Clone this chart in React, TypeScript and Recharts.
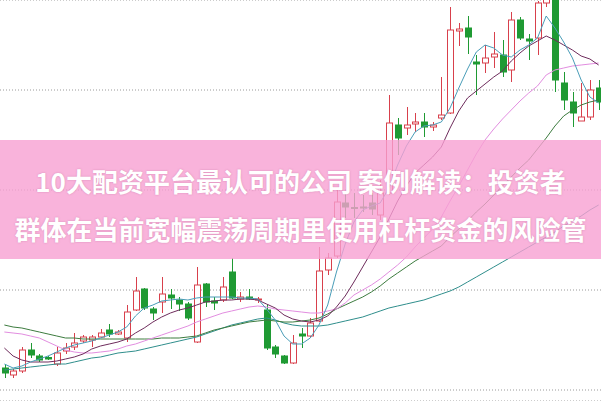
import React from 'react';
import { ComposedChart, Bar, Line, XAxis, YAxis, CartesianGrid } from 'recharts';

// ---- data ----
const openV = [12.2, 11.5, 11.9, 14.0, 13.4, 13.25, 12.6, 13.9, 14.3, 14.9, 15.0, 15.3, 16.0, 15.6, 15.2, 18.0, 20.1, 18.1, 18.8, 19.5, 19.0, 18.6, 14.8, 20.6, 18.9, 19.0, 21.8, 19.1, 19.3, 19.0, 18.0, 14.3, 13.4, 12.7, 15.6, 15.4, 16.9, 22.0, 23.4, 28.7, 28.25, 28.3, 28.7, 27.5, 29.7, 36.5, 36.2, 36.6, 36.8, 36.3, 37.2, 37.7, 45.9, 46.2, 42.8, 42.7, 43.3, 43.5, 42.0, 47.0, 45.1, 45.2, 48.7, 49.5, 40.7, 38.8, 36.9, 37.3, 40.2];
const closeV = [11.7, 11.9, 14.0, 13.5, 13.0, 13.1, 13.7, 14.2, 14.7, 15.3, 15.3, 15.7, 15.6, 15.8, 17.8, 19.9, 18.2, 17.7, 19.6, 19.2, 18.6, 17.2, 20.5, 18.8, 18.7, 20.3, 19.2, 19.3, 19.1, 19.1, 14.2, 13.6, 12.7, 14.7, 15.4, 16.7, 21.9, 23.2, 28.8, 28.3, 28.15, 28.2, 28.1, 29.7, 36.7, 35.2, 36.5, 36.8, 36.3, 36.5, 37.5, 46.0, 46.1, 45.3, 42.6, 43.2, 43.6, 41.8, 47.0, 45.2, 44.9, 48.7, 49.6, 41.0, 39.0, 37.7, 37.3, 40.0, 38.8];
const highV = [12.6, 12.1, 14.3, 14.7, 13.6, 13.4, 14.3, 14.7, 15.7, 15.5, 15.5, 16.1, 16.6, 16.0, 18.5, 21.3, 20.2, 18.3, 21.3, 20.1, 19.3, 18.8, 22.3, 20.7, 19.3, 21.3, 23.2, 19.8, 20.1, 19.3, 18.5, 14.5, 13.5, 15.5, 16.2, 17.2, 24.3, 23.7, 30.0, 29.7, 29.7, 29.5, 29.7, 31.0, 39.5, 37.2, 38.3, 37.7, 37.7, 36.8, 41.3, 48.3, 46.7, 47.4, 43.5, 44.5, 45.8, 45.0, 47.8, 47.3, 45.6, 48.9, 50.5, 50.2, 41.8, 39.8, 40.7, 41.0, 41.0];
const lowV = [11.2, 11.2, 11.7, 13.2, 12.8, 13.0, 12.4, 13.6, 14.0, 14.7, 14.3, 15.2, 15.3, 15.5, 14.8, 17.9, 18.0, 17.0, 17.7, 18.1, 17.9, 17.0, 14.7, 18.3, 18.0, 18.8, 19.1, 18.8, 19.0, 18.7, 14.0, 13.2, 12.6, 12.6, 14.2, 15.3, 16.8, 21.5, 23.2, 27.2, 27.2, 27.8, 27.5, 27.0, 29.5, 33.5, 35.5, 35.8, 35.3, 35.9, 37.0, 37.6, 44.4, 43.6, 39.5, 41.7, 42.2, 41.3, 40.8, 45.0, 43.0, 43.5, 48.3, 39.8, 38.0, 36.3, 36.9, 37.0, 38.0];

const ma5 = [12.6, 12.2, 12.4, 12.8, 13.1, 13.4, 13.8, 14.2, 14.5, 14.7, 14.9, 15.2, 15.5, 15.8, 16.3, 17.4, 18.2, 18.5, 18.9, 19.0, 19.1, 19.0, 19.2, 19.3, 19.3, 19.3, 19.3, 19.2, 19.2, 19.1, 18.1, 17.0, 15.4, 14.6, 14.6, 15.2, 16.5, 18.5, 21.8, 24.6, 26.8, 28.0, 28.4, 28.7, 30.2, 32.5, 34.4, 35.8, 36.4, 36.5, 36.8, 38.2, 40.2, 42.1, 43.8, 44.5, 44.2, 43.5, 43.3, 44.0, 44.5, 45.2, 47.4, 46.2, 44.8, 43.2, 41.0, 39.3, 38.7];
const ma10 = [14.2, 13.4, 13.0, 12.8, 12.8, 12.8, 12.9, 13.1, 13.3, 13.6, 14.1, 14.4, 14.6, 14.8, 15.1, 15.7, 16.2, 16.8, 17.3, 17.7, 18.0, 18.2, 18.5, 18.8, 18.9, 19.0, 19.0, 19.1, 19.1, 19.0, 18.6, 18.2, 17.5, 17.1, 16.9, 16.8, 17.0, 17.4, 18.3, 19.4, 20.8, 22.3, 23.8, 25.3, 27.1, 28.9, 30.4, 31.7, 32.5, 33.3, 34.3, 36.2, 37.9, 39.2, 39.9, 40.6, 41.3, 41.9, 42.9, 43.7, 44.4, 44.9, 45.4, 45.0, 44.5, 44.0, 43.4, 43.1, 42.5];
const ma20 = [15.8, 15.7, 15.6, 15.4, 15.2, 14.8, 14.4, 14.0, 13.8, 13.7, 13.7, 13.8, 13.9, 14.1, 14.4, 14.6, 14.9, 15.2, 15.5, 15.8, 16.1, 16.4, 16.8, 17.1, 17.4, 17.7, 17.9, 18.1, 18.3, 18.4, 18.3, 18.1, 18.0, 17.9, 17.8, 17.7, 17.7, 17.9, 18.1, 18.7, 19.5, 20.0, 20.5, 21.1, 21.8, 22.5, 23.3, 24.3, 25.2, 26.1, 27.3, 28.9, 30.4, 32.0, 33.6, 35.0, 36.1, 37.1, 38.0, 38.9, 39.7, 40.4, 41.5, 42.0, 42.2, 42.4, 42.5, 42.6, 42.7];
const ma30 = [16.5, 16.3, 16.2, 16.0, 15.8, 15.6, 15.4, 15.2, 15.2, 15.1, 15.1, 15.1, 15.1, 15.1, 15.1, 15.1, 15.1, 15.1, 15.2, 15.2, 15.2, 15.3, 15.4, 15.7, 16.0, 16.2, 16.4, 16.6, 16.8, 16.9, 17.0, 16.9, 16.8, 16.8, 16.9, 17.0, 17.2, 17.6, 18.1, 18.5, 18.9, 19.3, 19.8, 20.4, 21.1, 21.7, 22.3, 22.9, 23.4, 23.9, 24.4, 25.3, 26.1, 26.9, 27.8, 28.6, 29.5, 30.4, 31.3, 32.2, 33.0, 34.1, 35.2, 36.4, 37.4, 38.0, 38.5, 38.8, 39.0];
const ma60 = [12.0, 12.1, 12.2, 12.3, 12.4, 12.5, 12.6, 12.6, 12.8, 13.0, 13.2, 13.3, 13.5, 13.7, 13.8, 13.9, 14.1, 14.3, 14.5, 14.7, 14.9, 15.1, 15.3, 15.6, 15.9, 16.2, 16.5, 16.7, 16.9, 17.1, 17.2, 17.0, 16.7, 16.5, 16.4, 16.4, 16.4, 16.5, 16.7, 16.9, 17.1, 17.3, 17.6, 17.9, 18.2, 18.4, 18.6, 18.8, 19.0, 19.3, 19.6, 19.9, 20.3, 20.8, 21.3, 21.8, 22.3, 22.8, 23.3, 23.8, 24.3, 24.8, 25.3, 25.8, 26.4, 26.9, 27.4, 28.0, 28.5];

const days = openV.map((_, i) => `D${i + 1}`);
const priceTicks = [10, 20, 30, 40];

const titleLine1 = '10大配资平台最认可的公司 案例解读：投资者';
const titleLine2 = '群体在当前宽幅震荡周期里使用杠杆资金的风险管';

const data = days.map((d, i) => ({
  d,
  o: openV[i],
  c: closeV[i],
  h: highV[i],
  l: lowV[i],
  range: [lowV[i], highV[i]],
  ma5: ma5[i],
  ma10: ma10[i],
  ma20: ma20[i],
  ma30: ma30[i],
  ma60: ma60[i],
}));

const UP = '#d8404c';
const DOWN = '#1f9a33';

const Candle = (props: any) => {
  const { x, y, width, height, payload } = props;
  if (!payload || x == null) return null;
  const { o, c, h, l } = payload;
  const top = Math.min(y, y + height);
  const hh = Math.abs(height);
  const yOf = (v: number) => top + ((h - v) / (h - l)) * hh;
  const cx = x + width / 2;
  const x0 = Math.round(cx) - 3;
  const up = c >= o;
  const color = up ? UP : DOWN;
  const bTop = yOf(Math.max(o, c));
  const bBot = yOf(Math.min(o, c));
  const bh = Math.max(1, bBot - bTop);
  return (
    <g>
      <line x1={x0 + 3.5} x2={x0 + 3.5} y1={top} y2={top + hh} stroke={color} strokeWidth={1} />
      <rect
        x={x0 + 0.5}
        y={bTop}
        width={6}
        height={bh}
        fill={up ? '#ffffff' : color}
        stroke={color}
        strokeWidth={1}
      />
    </g>
  );
};

const lineCommon = {
  type: 'linear' as const,
  strokeWidth: 1,
  dot: false,
  activeDot: false,
  legendType: 'none' as const,
  isAnimationActive: false,
};

export default function App() {
  return (
    <div style={{ position: 'absolute', left: 0, top: 0, width: 601, height: 401, overflow: 'hidden', background: '#fff' }}>
      <ComposedChart width={603} height={401} data={data} margin={{ top: 0, right: 0, bottom: 0, left: 0 }}>
        <CartesianGrid vertical={false} stroke="#9a9a9a" strokeDasharray="1 2" />
        <XAxis dataKey="d" hide />
        <YAxis hide domain={[8.9, 49]} ticks={priceTicks} allowDataOverflow />
        <Bar dataKey="range" barSize={7} shape={<Candle />} isAnimationActive={false} />
        <Line {...lineCommon} dataKey="ma60" stroke="#2f8e8c" />
        <Line {...lineCommon} dataKey="ma30" stroke="#3d7c3f" />
        <Line {...lineCommon} dataKey="ma20" stroke="#e28de0" />
        <Line {...lineCommon} dataKey="ma10" stroke="#6e2c5c" />
        <Line {...lineCommon} dataKey="ma5" stroke="#4a9db8" />
      </ComposedChart>
      <div
        style={{
          position: 'absolute',
          left: 0,
          top: 140,
          width: 601,
          height: 119,
          background: 'rgba(248,160,210,0.8)',
        }}
      />
      <div
        style={{
          position: 'absolute',
          left: 0,
          top: 157,
          width: 601,
          textAlign: 'center',
          color: '#ffffff',
          fontFamily: "'Noto Sans CJK SC', sans-serif",
          fontWeight: 700,
          fontSize: 26,
          lineHeight: '48px',
          whiteSpace: 'nowrap',
          textShadow: '0 0 2px rgba(150,60,110,0.35)',
        }}
      >
        <div>{titleLine1}</div>
        <div>{titleLine2}</div>
      </div>
    </div>
  );
}
